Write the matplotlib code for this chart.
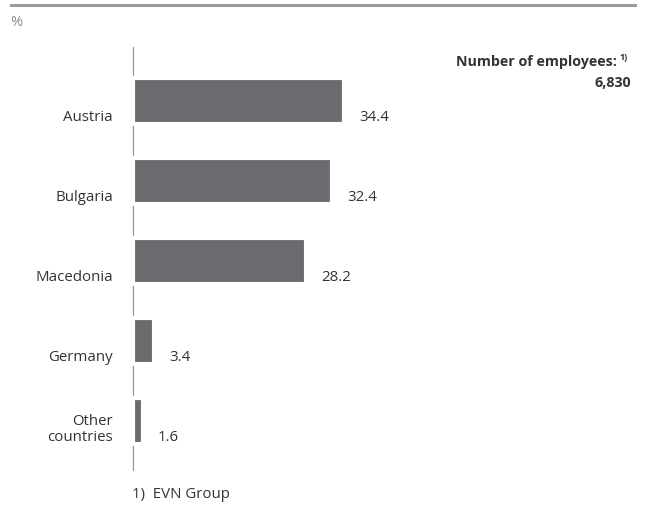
import matplotlib.pyplot as plt
from matplotlib.lines import Line2D

# Datos
paises = ["Austria", "Bulgaria", "Macedonia", "Germany", "Other\ncountries"]
valores = [34.4, 32.4, 28.2, 3.4, 1.6]
etiquetas = ["34.4", "32.4", "28.2", "3.4", "1.6"]
empleados = "6,830"

plt.rcParams["font.family"] = ["Open Sans", "DejaVu Sans"]
color_texto = "#333333"
color_barra = "#6a6b6f"

W, H = 648, 509
fig = plt.figure(figsize=(W / 100, H / 100), dpi=100)

# Eje en coordenadas de pixel: x 133..439.5 (50 unidades), y 47..470
escala = 6.13
x0, x1 = 133, 133 + escala * 50
y_top, y_bot = 47, 470
ax = fig.add_axes([x0 / W, 1 - y_bot / H, (x1 - x0) / W, (y_bot - y_top) / H])
ax.set_xlim(0, 50)
ax.set_ylim(4.6125, -0.675)

for s in ["top", "right", "bottom"]:
    ax.spines[s].set_visible(False)
ax.spines["left"].set_color("#999999")
ax.spines["left"].set_linewidth(0.9)
ax.set_xticks([])
ax.set_yticks([])

pos = list(range(len(paises)))
ax.barh(pos, valores, height=0.565, color=color_barra, edgecolor="white",
        linewidth=3, zorder=3, clip_on=False)

for i, (p, v, t) in enumerate(zip(paises, valores, etiquetas)):
    ax.annotate(t, xy=(v, i), xytext=(11, -14.5), textcoords="offset points",
                ha="left", va="baseline", fontsize=10.8, color=color_texto)
    # baseline de la ultima linea alineada con el borde inferior de la barra
    ax.annotate(p, xy=(0, i), xytext=(-14.5, -14.5), textcoords="offset points",
                ha="right", va="baseline", multialignment="right",
                fontsize=10.8, color=color_texto, linespacing=1.1)

# Linea gris superior
fig.add_artist(Line2D([11 / W, 635 / W], [1 - 4.5 / H, 1 - 4.5 / H],
                      color="#9a9a9a", linewidth=2.2))
fig.text(10 / W, 1 - 23 / H, "%", fontsize=10.5, color="#8a8a8a",
         ha="left", va="center")

# Numero de empleados
fig.text(617 / W, 1 - 62 / H, "Number of employees:", fontsize=10.3, fontweight="bold",
         color=color_texto, ha="right", va="center")
fig.text(619 / W, 1 - 58 / H, "1)", fontsize=6.5, fontweight="bold",
         color=color_texto, ha="left", va="center")
fig.text(631 / W, 1 - 83 / H, empleados, fontsize=10.3, fontweight="bold",
         color=color_texto, ha="right", va="center")

# Nota al pie
fig.text(132 / W, 1 - 494 / H, "1)  EVN Group", fontsize=10.8, color=color_texto,
         ha="left", va="center")

fig.savefig("out.png", dpi=100)
